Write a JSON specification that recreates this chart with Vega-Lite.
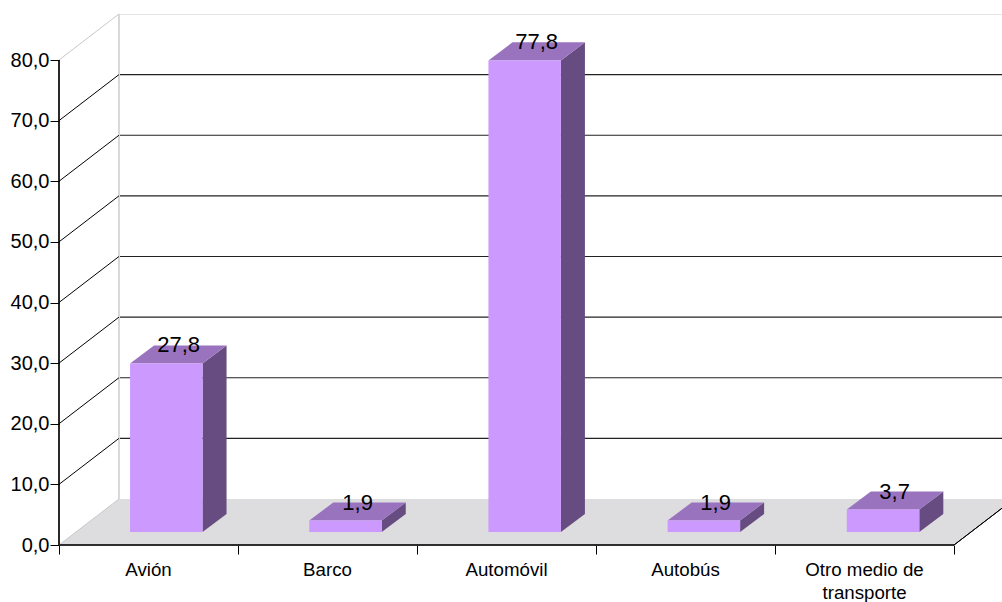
{
"$schema":"https://vega.github.io/schema/vega-lite/v6.json",
"width":943,"height":531,
"autosize":{"type":"none"},
"padding":{"left":59,"top":14,"right":0,"bottom":57},
"background":"white",
"view":{"stroke":null},
"datasets":{
"bars":[
{"cat":"Avión","idx":0,"value":27.8},
{"cat":"Barco","idx":1,"value":1.9},
{"cat":"Automóvil","idx":2,"value":77.8},
{"cat":"Autobús","idx":3,"value":1.9},
{"cat":"Otro medio de transporte","idx":4,"value":3.7}],
"grid":[{"v":0},{"v":10},{"v":20},{"v":30},{"v":40},{"v":50},{"v":60},{"v":70},{"v":80}],
"ends":[{"t":0},{"t":1}]
},
"layer":[
{"data":{"name":"ends"},
"transform":[{"calculate":"datum.t*0.335","as":"x0"},{"calculate":"5+datum.t*0.335","as":"x1"},{"calculate":"datum.t*7.59","as":"yy"}],
"mark":{"type":"area","orient":"horizontal","color":"#DDDDDF","clip":true},
"encoding":{
"x":{"field":"x0","type":"quantitative","title":null,"scale":{"domain":[0,5.268],"nice":false,"zero":false},
"axis":{"values":[0,1,2,3,4,5],"labels":false,"domain":false,"grid":false,"title":null,"tickColor":"#000","tickSize":9,"tickWidth":1}},
"x2":{"field":"x1"},
"y":{"field":"yy","type":"quantitative","title":null,"stack":null,"scale":{"domain":[0,87.59],"nice":false,"zero":false},
"axis":{"values":[0,10,20,30,40,50,60,70,80],"domain":false,"grid":false,"title":null,"tickColor":"#000","tickSize":9,"tickWidth":1,"labelFont":"Liberation Sans","labelFontSize":20,"labelColor":"#000","labelPadding":1,"labelExpr":"replace(format(datum.value,'.1f'),'.',',')"}}
}},
{"data":{"name":"grid"},
"transform":[{"filter":"datum.v>0"},{"calculate":"datum.v+7.59","as":"yb"},{"calculate":"0.335","as":"xa"},{"calculate":"5.268","as":"xb"}],
"mark":{"type":"rule","clip":true,"strokeWidth":1.2},
"encoding":{"x":{"field":"xa","type":"quantitative","title":null},"x2":{"field":"xb"},"y":{"field":"yb","type":"quantitative","title":null},
"strokeWidth":{"condition":{"test":"datum.v==80","value":2},"value":1.2},
"color":{"condition":{"test":"datum.v==80","value":"#CCCCCC"},"value":"#222222"}}},
{"data":{"name":"ends"},
"transform":[{"calculate":"0.335","as":"xa"},{"calculate":"7.59","as":"y0"},{"calculate":"87.59","as":"y1"}],
"mark":{"type":"rule","color":"#D9D9D9","strokeWidth":2},
"encoding":{"x":{"field":"xa","type":"quantitative","title":null},"y":{"field":"y0","type":"quantitative","title":null},"y2":{"field":"y1"}}},
{"data":{"name":"grid"},
"transform":[{"calculate":"0","as":"xa"},{"calculate":"0.335","as":"xb"},{"calculate":"datum.v+7.59","as":"yb"}],
"mark":{"type":"rule","strokeWidth":1},
"encoding":{"x":{"field":"xa","type":"quantitative","title":null},"x2":{"field":"xb"},"y":{"field":"v","type":"quantitative","title":null},"y2":{"field":"yb"},
"color":{"condition":{"test":"datum.v==80||datum.v==0","value":"#C8C8C8"},"value":"#000000"}}},
{"data":{"name":"ends"},
"transform":[{"calculate":"5","as":"xa"},{"calculate":"5.335","as":"xb"},{"calculate":"0","as":"y0"},{"calculate":"7.59","as":"y1"}],
"mark":{"type":"rule","color":"#000","strokeWidth":1,"clip":true},
"encoding":{"x":{"field":"xa","type":"quantitative","title":null},"x2":{"field":"xb"},"y":{"field":"y0","type":"quantitative","title":null},"y2":{"field":"y1"}}},
{"data":{"name":"ends"},
"transform":[{"calculate":"0","as":"xa"},{"calculate":"0","as":"y0"},{"calculate":"80","as":"y1"}],
"mark":{"type":"rule","color":"#000","strokeWidth":1.2},
"encoding":{"x":{"field":"xa","type":"quantitative","title":null},"y":{"field":"y0","type":"quantitative","title":null},"y2":{"field":"y1"}}},
{"data":{"name":"ends"},
"transform":[{"calculate":"0","as":"xa"},{"calculate":"5","as":"xb"},{"calculate":"0","as":"y0"}],
"mark":{"type":"rule","color":"#222","strokeWidth":1.5},
"encoding":{"x":{"field":"xa","type":"quantitative","title":null},"x2":{"field":"xb"},"y":{"field":"y0","type":"quantitative","title":null}}},
{"data":{"name":"bars"},
"transform":[{"calculate":"[0,1]","as":"t"},{"flatten":["t"]},{"calculate":"datum.idx*1.001+0.802+datum.t*0.134","as":"xs"},{"calculate":"2.14+datum.t*2.97","as":"y0"},{"calculate":"2.14+datum.value+datum.t*2.97","as":"y1"}],
"mark":{"type":"area","orient":"vertical","color":"#664C80"},
"encoding":{"detail":{"field":"cat"},"x":{"field":"xs","type":"quantitative","title":null},"y":{"field":"y0","type":"quantitative","title":null,"stack":null},"y2":{"field":"y1"}}},
{"data":{"name":"bars"},
"transform":[{"calculate":"[0,1]","as":"t"},{"flatten":["t"]},{"calculate":"datum.idx*1.001+0.397+datum.t*0.134","as":"x0"},{"calculate":"datum.idx*1.001+0.802+datum.t*0.134","as":"x1"},{"calculate":"2.14+datum.value+datum.t*2.97","as":"yt"}],
"mark":{"type":"area","orient":"horizontal","color":"#9A73BF"},
"encoding":{"detail":{"field":"cat"},"x":{"field":"x0","type":"quantitative","title":null,"stack":null},"x2":{"field":"x1"},"y":{"field":"yt","type":"quantitative","title":null}}},
{"data":{"name":"bars"},
"transform":[{"calculate":"datum.idx*1.001+0.397","as":"x0"},{"calculate":"datum.idx*1.001+0.802","as":"x1"},{"calculate":"2.14","as":"y0"},{"calculate":"2.14+datum.value","as":"y1"}],
"mark":{"type":"rect","color":"#CC99FF"},
"encoding":{"x":{"field":"x0","type":"quantitative","title":null},"x2":{"field":"x1"},"y":{"field":"y0","type":"quantitative","title":null},"y2":{"field":"y1"}}},
{"data":{"name":"bars"},
"transform":[{"calculate":"datum.idx+0.668","as":"xl"},{"calculate":"2.14+datum.value+2.97","as":"yl"},{"calculate":"replace(format(datum.value,'.1f'),'.',',')","as":"label"}],
"mark":{"type":"text","font":"Liberation Sans","fontSize":22,"color":"#000","align":"center","baseline":"middle"},
"encoding":{"x":{"field":"xl","type":"quantitative","title":null},"y":{"field":"yl","type":"quantitative","title":null},"text":{"field":"label"}}},
{"data":{"name":"bars"},
"transform":[{"calculate":"datum.idx+0.5","as":"xl"},{"calculate":"-5.1","as":"yl"},{"calculate":"replace(datum.cat,'de transporte','de\\ntransporte')","as":"label"}],
"mark":{"type":"text","font":"Liberation Sans","fontSize":18.7,"color":"#000","align":"center","baseline":"alphabetic","lineBreak":"\n","lineHeight":23},
"encoding":{"x":{"field":"xl","type":"quantitative","title":null},"y":{"field":"yl","type":"quantitative","title":null},"text":{"field":"label"}}}
]
}
